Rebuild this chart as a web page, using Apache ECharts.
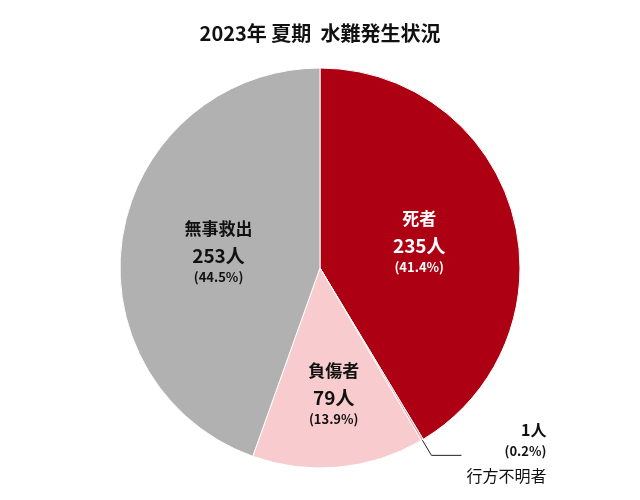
<!DOCTYPE html>
<html>
<head>
<meta charset="utf-8">
<script src="https://cdn.jsdelivr.net/npm/echarts@6/dist/echarts.min.js"></script>
<style>html,body{margin:0;background:#fff}#c{width:640px;height:500px}</style>
</head>
<body>
<div id="c"></div>
<script>
// 2023年 夏期 水難発生状況
const names = ['死者', '行方不明者', '負傷者', '無事救出'];
const counts = [235, 1, 79, 253];
const percents = ['41.4%', '0.2%', '13.9%', '44.5%'];
const colors = ['#AD0012', '#E79AA3', '#F8CBCF', '#B1B1B1'];

const chart = echarts.init(document.getElementById('c'));
const font = '"Noto Sans CJK JP", sans-serif';

const rich = (c) => ({
    n: { fontSize: 17, fontWeight: 'bold', color: c, fontFamily: font, lineHeight: 28 },
    v: { fontSize: 19, fontWeight: 'bold', color: c, fontFamily: font, lineHeight: 26 },
    p: { fontSize: 13, fontWeight: 'bold', color: c, fontFamily: font, lineHeight: 18 },
});

const data = names.map((name, i) => {
    const item = { name, value: counts[i], itemStyle: { color: colors[i] } };
    if (i === 1) {
        item.label = {
            position: 'outside',
            formatter: () => `{v|${counts[i]}人}\n{p|(${percents[i]})}\n{n|${name}}`,
            rich: {
                v: { fontSize: 16, fontWeight: 'bold', color: '#111', fontFamily: font, lineHeight: 22, align: 'right', padding: [0, 0, 0, 0] },
                p: { fontSize: 13, fontWeight: 'bold', color: '#111', fontFamily: font, lineHeight: 20, align: 'right' },
                n: { fontSize: 16, color: '#111', fontFamily: font, lineHeight: 30, align: 'right' },
            },
            align: 'left',
        };
        item.labelLine = { show: true, length: 18, length2: 30, lineStyle: { color: '#222', width: 1 } };
    } else {
        const c = i === 0 ? '#fff' : '#111';
        item.label = {
            position: 'inside',
            offset: i === 2 ? [4, 22] : [0, 0],
            formatter: () => `{n|${name}}\n{v|${counts[i]}人}\n{p|(${percents[i]})}`,
            rich: rich(c),
        };
    }
    return item;
});

chart.setOption({
    animation: false,
    title: {
        text: '2023年 夏期  水難発生状況',
        left: 'center', top: 18,
        textStyle: { fontSize: 20, fontWeight: 'bold', color: '#111', fontFamily: font },
    },
    series: [{
        type: 'pie',
        center: [320, 268],
        radius: [0, 200],
        startAngle: 90,
        clockwise: true,
        avoidLabelOverlap: false,
        itemStyle: { borderColor: '#fff', borderWidth: 1 },
        label: { show: true, align: 'center' },
        data,
    }],
});
</script>
</body>
</html>
